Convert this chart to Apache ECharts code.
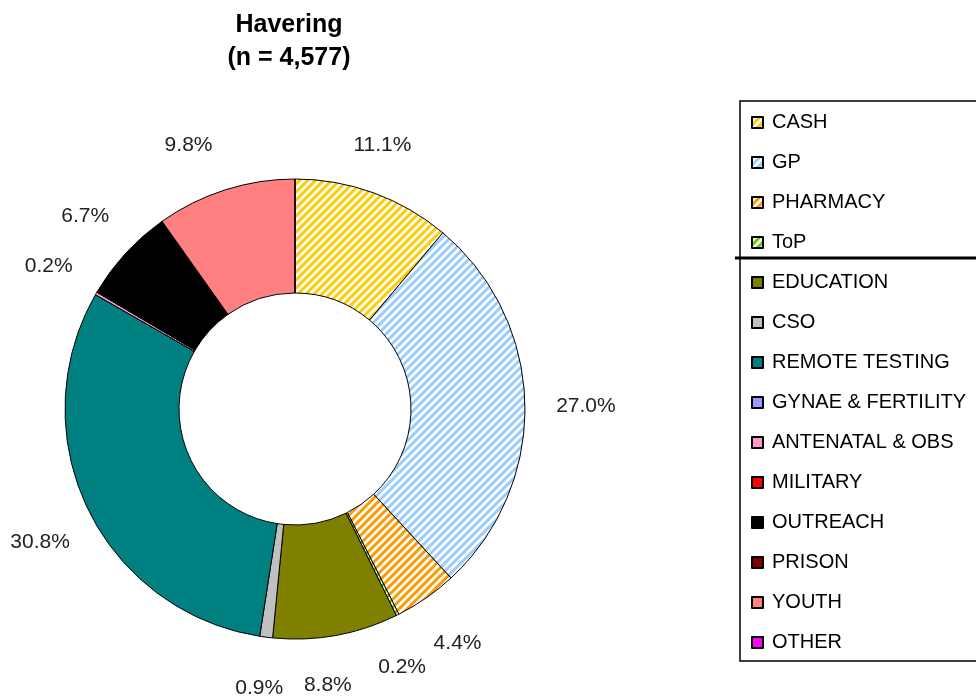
<!DOCTYPE html>
<html>
<head>
<meta charset="utf-8">
<script src="https://cdn.jsdelivr.net/npm/echarts@6/dist/echarts.min.js"></script>
<style>
  html, body { margin: 0; padding: 0; background: #fff; }
  #chart { width: 976px; height: 698px; }
</style>
</head>
<body>
<div id="chart"></div>
<script>
// categories in drawing order (clockwise from 12 o'clock)
var categories = ['CASH', 'GP', 'PHARMACY', 'ToP', 'EDUCATION', 'CSO', 'REMOTE TESTING',
    'GYNAE & FERTILITY', 'ANTENATAL & OBS', 'MILITARY', 'OUTREACH', 'PRISON', 'YOUTH', 'OTHER'];
// share of the 4,577 tests, percent
var percents = [11.1, 27.0, 4.4, 0.2, 8.8, 0.9, 30.8, 0, 0.2, 0, 6.7, 0, 9.8, 0];
var colors = ['#FFCC00', '#99CCFF', '#FF9900', '#66CC00', '#808000', '#C0C0C0', '#008080',
    '#9999FF', '#FF99CC', '#FF0000', '#000000', '#800000', '#FF8080', '#FF00FF'];
var striped = ['CASH', 'GP', 'PHARMACY', 'ToP'];

// small label shifts so crowded labels sit apart, as in the original
var labelNudge = {
    'CASH': [-10, 4],
    'GP': [6, 4],
    'ToP': [-20, 3],
    'EDUCATION': [-18, -4],
    'CSO': [0, -4],
    'REMOTE TESTING': [2, 10],
    'YOUTH': [-20, 8]
};

function stripes(color) {
    var c = document.createElement('canvas');
    c.width = 8; c.height = 8;
    var ctx = c.getContext('2d');
    ctx.fillStyle = '#fff';
    ctx.fillRect(0, 0, 8, 8);
    ctx.strokeStyle = color;
    ctx.lineWidth = 3;
    ctx.beginPath();
    ctx.moveTo(-2, 10); ctx.lineTo(10, -2);
    ctx.moveTo(-6, 6); ctx.lineTo(6, -6);
    ctx.moveTo(2, 14); ctx.lineTo(14, 2);
    ctx.stroke();
    return { image: c, repeat: 'repeat' };
}

var ringData = categories.map(function (name, i) {
    return {
        name: name,
        value: percents[i],
        itemStyle: { color: striped.indexOf(name) >= 0 ? stripes(colors[i]) : colors[i] }
    };
});

var labelData = categories.map(function (name, i) {
    var d = { name: name, value: percents[i] };
    if (labelNudge[name]) d.label = { offset: labelNudge[name] };
    return d;
});

var chartDom = document.getElementById('chart');
var myChart = echarts.init(chartDom);
var font = 'Liberation Sans, Arial, sans-serif';
var option = {
    backgroundColor: '#fff',
    animation: false,
    title: {
        text: 'Havering\n(n = 4,577)',
        left: 284,
        top: 4,
        textAlign: 'center',
        textStyle: { fontFamily: font, fontSize: 25, fontWeight: 'bold', color: '#000', lineHeight: 33 }
    },
    legend: {
        orient: 'vertical',
        left: 746,
        top: 107,
        itemWidth: 11,
        itemHeight: 11,
        itemGap: 19,
        icon: 'rect',
        data: categories,
        textStyle: { fontFamily: font, fontSize: 20, lineHeight: 21, color: '#000', padding: [0, 0, 0, 4] }
    },
    graphic: [
        {
            type: 'rect',
            shape: { x: 740, y: 101, width: 300, height: 560 },
            style: { fill: 'none', stroke: '#000', lineWidth: 1.5 },
            silent: true
        },
        {
            type: 'line',
            shape: { x1: 735, y1: 258, x2: 976, y2: 258 },
            style: { stroke: '#000', lineWidth: 3 },
            silent: true
        }
    ],
    series: [
        {
            type: 'pie',
            center: [295, 409],
            radius: [116, 230],
            startAngle: 90,
            clockwise: true,
            data: ringData,
            itemStyle: { borderColor: '#000', borderWidth: 1 },
            label: { show: false },
            labelLine: { show: false },
            emphasis: { disabled: true }
        },
        {
            // invisible ring that only carries the percentage labels
            type: 'pie',
            center: [295, 409],
            radius: [250, 314],
            startAngle: 90,
            clockwise: true,
            silent: true,
            legendHoverLink: false,
            data: labelData,
            itemStyle: { color: 'rgba(0,0,0,0)', borderWidth: 0 },
            label: {
                position: 'inside',
                fontFamily: font,
                fontSize: 21,
                color: '#222',
                formatter: function (p) { return p.value > 0 ? p.value.toFixed(1) + '%' : ''; }
            },
            labelLine: { show: false },
            emphasis: { disabled: true }
        }
    ]
};

option && myChart.setOption(option);
</script>
</body>
</html>
